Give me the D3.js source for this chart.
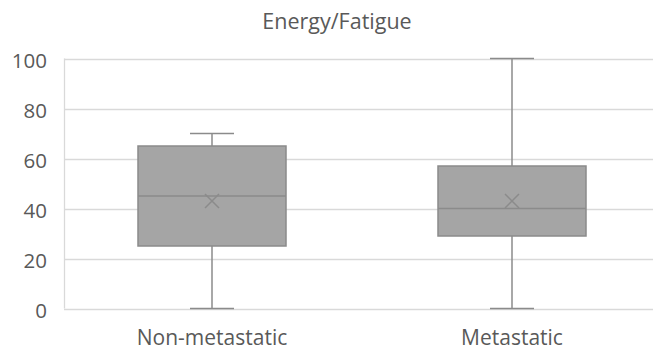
<!DOCTYPE html>
<html>
<head>
<meta charset="utf-8">
<script src="https://cdn.jsdelivr.net/npm/d3@7"></script>
<style>
  html, body { margin: 0; padding: 0; background: #fff; }
  svg { display: block; }
  text { font-family: "Open Sans", "Liberation Sans", sans-serif; fill: #595959; }
</style>
</head>
<body>
<svg id="chart" width="653" height="352"></svg>
<script>
// Energy/Fatigue scores by group
const categories = ["Non-metastatic", "Metastatic"];
const minValues    = [0, 0];
const q1Values     = [25, 29];
const medianValues = [45, 40];
const q3Values     = [65, 57];
const maxValues    = [70, 100];
const meanValues   = [43, 43];
const yTicks = [0, 20, 40, 60, 80, 100];

const svg = d3.select("#chart");
const W = 653, H = 352;
const plot = { left: 64, right: 662, top: 58.5, bottom: 308.5 };

const x = d3.scaleBand().domain(categories).range([plot.left - 2, plot.right]).paddingInner(0).paddingOuter(0);
const y = d3.scaleLinear().domain([0, 100]).range([plot.bottom, plot.top]);

// title
svg.append("text")
  .attr("x", 337).attr("y", 28.5)
  .attr("text-anchor", "middle")
  .style("font-size", "21.5px")
  .text("Energy/Fatigue");

// gridlines
const grid = svg.append("g");
grid.selectAll("line").data(yTicks).join("line")
  .attr("x1", plot.left).attr("x2", W)
  .attr("y1", d => Math.round(y(d)) + 0.5).attr("y2", d => Math.round(y(d)) + 0.5)
  .attr("stroke", "#d9d9d9").attr("stroke-width", 1.3);
grid.append("line")
  .attr("x1", plot.left + 0.5).attr("x2", plot.left + 0.5)
  .attr("y1", y(100)).attr("y2", y(0))
  .attr("stroke", "#d9d9d9").attr("stroke-width", 1.3);

// y axis labels
const yAxis = d3.axisLeft(y).tickValues(yTicks).tickSize(0).tickPadding(0);
const ya = svg.append("g").attr("transform", `translate(${47},0)`).call(yAxis);
ya.select(".domain").remove();
ya.selectAll("text").style("font-size", "20.5px").attr("fill", "#595959").attr("dy", "0.42em")
  .style("font-family", "'Open Sans', sans-serif");

// x axis labels
const xAxis = d3.axisBottom(x).tickSize(0).tickPadding(0);
const xa = svg.append("g").attr("transform", `translate(0,${330})`).call(xAxis);
xa.select(".domain").remove();
xa.selectAll("text").style("font-size", "21px").attr("fill", "#595959")
  .style("font-family", "'Open Sans', sans-serif");

// boxes
const data = categories.map((c, i) => ({
  c, min: minValues[i], q1: q1Values[i], med: medianValues[i], q3: q3Values[i], max: maxValues[i], mean: meanValues[i]
}));
const boxW = 148, capW = 44;
const strokeC = "#8b8b8b";
const g = svg.append("g");
data.forEach(d => {
  const cx = x(d.c) + x.bandwidth() / 2;
  // whiskers
  g.append("line").attr("x1", cx).attr("x2", cx).attr("y1", y(d.max)).attr("y2", y(d.q3))
    .attr("stroke", strokeC).attr("stroke-width", 1.5);
  g.append("line").attr("x1", cx).attr("x2", cx).attr("y1", y(d.q1)).attr("y2", y(d.min))
    .attr("stroke", strokeC).attr("stroke-width", 1.5);
  // caps
  [d.max, d.min].forEach(v => {
    g.append("line").attr("x1", cx - capW / 2).attr("x2", cx + capW / 2)
      .attr("y1", y(v)).attr("y2", y(v))
      .attr("stroke", strokeC).attr("stroke-width", 1.5);
  });
  // box
  g.append("rect").attr("x", cx - boxW / 2).attr("width", boxW)
    .attr("y", y(d.q3)).attr("height", y(d.q1) - y(d.q3))
    .attr("fill", "#a5a5a5").attr("stroke", strokeC).attr("stroke-width", 1.5);
  // median
  g.append("line").attr("x1", cx - boxW / 2).attr("x2", cx + boxW / 2)
    .attr("y1", y(d.med)).attr("y2", y(d.med))
    .attr("stroke", strokeC).attr("stroke-width", 1.5);
  // mean marker
  const my = y(d.mean), s = 7;
  g.append("path")
    .attr("d", `M${cx - s},${my - s}L${cx + s},${my + s}M${cx - s},${my + s}L${cx + s},${my - s}`)
    .attr("stroke", strokeC).attr("stroke-width", 1.5).attr("fill", "none");
});
</script>
</body>
</html>
